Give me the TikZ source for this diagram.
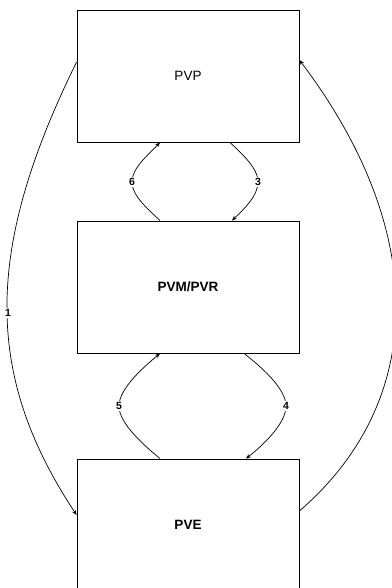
\documentclass[tikz,border=0pt]{standalone}
\usepackage{fontspec}
\setmainfont{Liberation Sans}
\usetikzlibrary{arrows.meta,calc}
\begin{document}
\begin{tikzpicture}[x=1pt,y=-1pt,
  box/.style={draw,line width=0.8pt,minimum width=222pt,minimum height=132pt,inner sep=0pt,font=\fontsize{13.5}{15}\selectfont},
  link/.style={draw,line width=0.7pt,-{Stealth[length=5pt,width=4pt]}},
  num/.style={fill=white,inner sep=1pt,font=\fontsize{10.5}{12}\selectfont\bfseries}]
\useasboundingbox (0,0) rectangle (391,588);
\node[box] (pvp) at (188,76) {PVP};
\node[box] (pvm) at (188,287) {\bfseries PVM/PVR};
\node[box] (pve) at (188,525) {\bfseries PVE};
\coordinate (c1) at (8,313);
\coordinate (c6) at (132,182);
\coordinate (c3) at (258,182);
\coordinate (c5) at (119,406);
\coordinate (c4) at (286,406);
% 6
\draw[link] ([xshift=-28pt]pvm.north) .. controls (148,209) and (132,196) .. (c6)
  .. controls (132,168) and (148,155) .. ([xshift=-28pt]pvp.south);
% 3
\draw[link] ([xshift=42pt]pvp.south) .. controls (242,154) and (258,168) .. (c3)
  .. controls (258,196) and (244,209) .. ([xshift=44pt]pvm.north);
% 5
\draw[link] ([xshift=-28pt]pve.north) .. controls (145,446) and (119,424) .. (c5)
  .. controls (119,388) and (145,366) .. ([xshift=-28pt]pvm.south);
% 4
\draw[link] ([xshift=56pt]pvm.south) .. controls (260,366) and (286,388) .. (c4)
  .. controls (286,424) and (262,446) .. ([xshift=58pt]pve.north);
% 1
\draw[link] ([yshift=14pt]pvp.west) .. controls (-16,250) and (-16,375) .. ([yshift=10pt]pve.west);
% right
\draw[link] ([yshift=14pt]pve.east) .. controls (428,400) and (428,230) .. ([yshift=16pt]pvp.east);
\node[num] (n1) at (c1) {1};
\node[num] (n6) at (c6) {6};
\node[num] (n3) at (c3) {3};
\node[num] (n5) at (c5) {5};
\node[num] (n4) at (c4) {4};
\end{tikzpicture}
\end{document}
